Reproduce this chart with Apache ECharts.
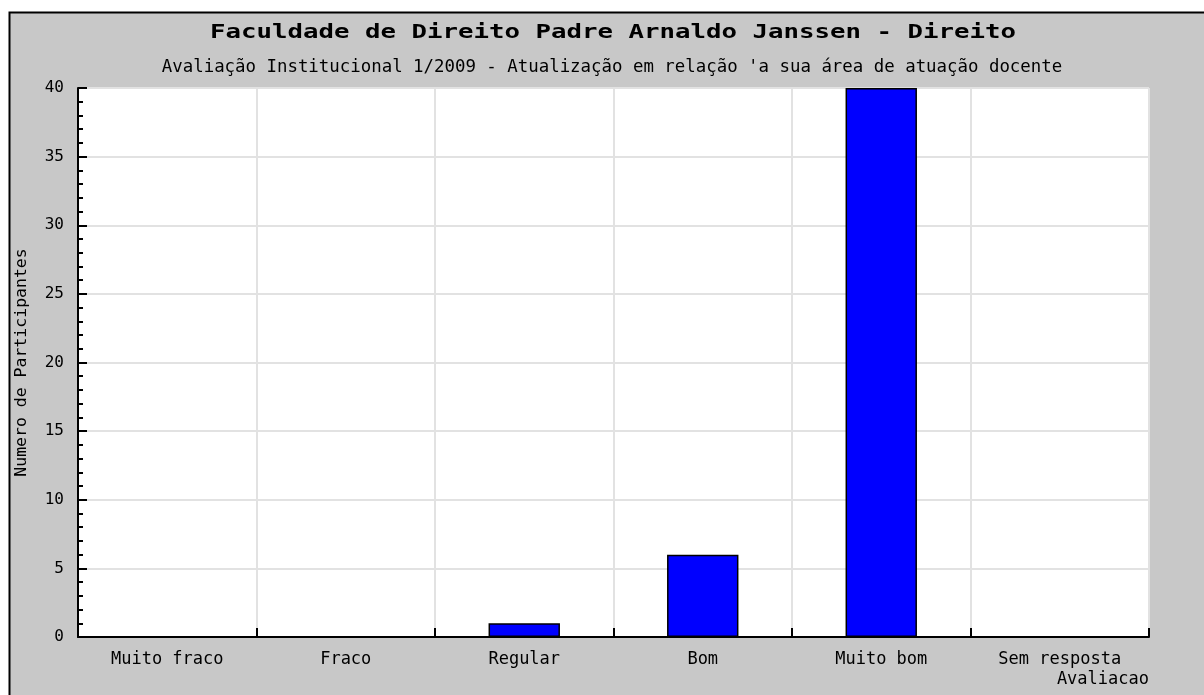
<!DOCTYPE html>
<html><head><meta charset="utf-8">
<script src="https://cdn.jsdelivr.net/npm/echarts@6/dist/echarts.min.js"></script>
<style>html,body{margin:0;padding:0;background:#fff}#c{width:1204px;height:695px}</style>
</head><body><div id="c"></div>
<script>
const titleText = "Faculdade de Direito Padre Arnaldo Janssen - Direito";
const subtitleText = "Avaliação Institucional 1/2009 - Atualização em relação 'a sua área de atuação docente";
const categories = ["Muito fraco", "Fraco", "Regular", "Bom", "Muito bom", "Sem resposta"];
const values = [0, 0, 1, 6, 40, 0];
const yAxisName = "Numero de Participantes";
const xAxisName = "Avaliacao";
const mono = "'DejaVu Sans Mono', 'Liberation Mono', monospace";

const chart = echarts.init(document.getElementById('c'));
chart.setOption({
  backgroundColor: '#ffffff',
  animation: false,
  graphic: [
    { type: 'rect', z: -10, shape: { x: 9.5, y: 12.5, width: 1300, height: 800 },
      style: { fill: '#c8c8c8', stroke: '#000', lineWidth: 2 } },
    { type: 'text', x: 613, y: 33, scaleX: 1.43, scaleY: 1.05, z: 10,
      style: { text: titleText, x: 0, y: 0, align: 'center', verticalAlign: 'middle',
        font: "bold 18px 'DejaVu Sans Mono', monospace", fill: '#000' } },
    { type: 'text', x: 612, y: 67, z: 10,
      style: { text: subtitleText, x: 0, y: 0, align: 'center', verticalAlign: 'middle',
        font: "17.4px 'DejaVu Sans Mono', monospace", fill: '#000' } }
  ],
  grid: { left: 78, top: 88, right: 55, bottom: 58, show: true, backgroundColor: '#fff', borderWidth: 0 },
  xAxis: {
    type: 'category', data: categories, boundaryGap: true,
    name: xAxisName, nameLocation: 'end',
    nameTextStyle: { fontFamily: mono, fontSize: 17, color: '#000', align: 'right', verticalAlign: 'top', padding: [34, 0, 0, 0] },
    nameGap: 0,
    axisLine: { lineStyle: { color: '#000', width: 2 } },
    axisTick: { show: true, inside: true, length: 9, alignWithLabel: false, lineStyle: { color: '#000', width: 2 } },
    axisLabel: { fontFamily: mono, fontSize: 17, color: '#000', margin: 14 },
    splitLine: { show: true, lineStyle: { color: '#e2e2e2', width: 2 } }
  },
  yAxis: {
    type: 'value', min: 0, max: 40, interval: 5,
    name: yAxisName, nameLocation: 'middle', nameGap: 48, nameRotate: 90,
    nameTextStyle: { fontFamily: mono, fontSize: 16.5, color: '#000' },
    axisLine: { show: true, lineStyle: { color: '#000', width: 2 } },
    axisTick: { show: true, inside: true, length: 9, lineStyle: { color: '#000', width: 2 } },
    minorTick: { show: true, splitNumber: 5, length: 5, lineStyle: { color: '#000', width: 2 } },
    axisLabel: { fontFamily: mono, fontSize: 16, color: '#000', margin: 14 },
    splitLine: { show: true, lineStyle: { color: '#e2e2e2', width: 2 } }
  },
  series: [{
    type: 'bar', data: values, barWidth: '40%',
    itemStyle: { color: '#0000ff', borderColor: '#000', borderWidth: 1.5 }
  }]
});
</script></body></html>
